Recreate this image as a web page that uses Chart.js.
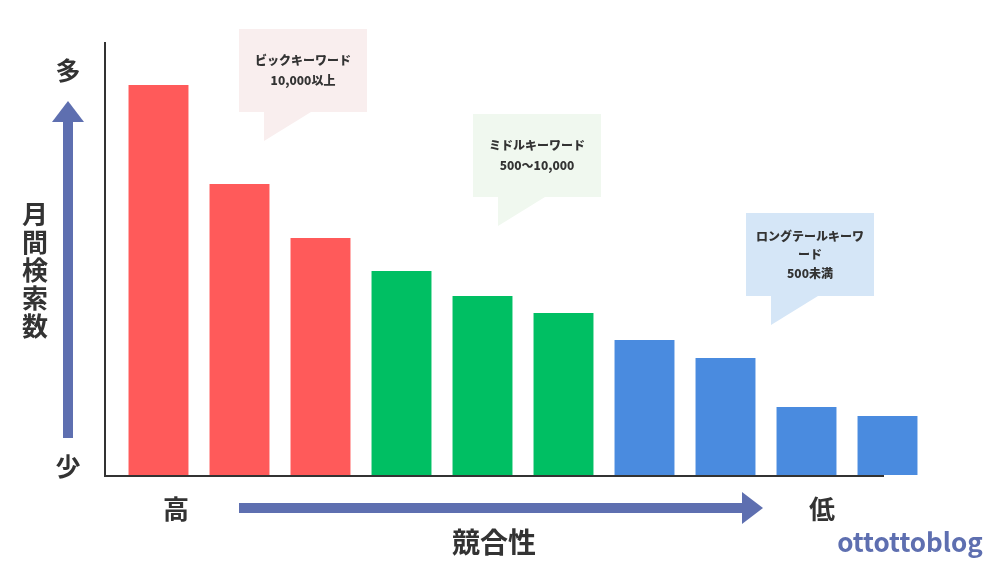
<!DOCTYPE html>
<html>
<head>
<meta charset="utf-8">
<script src="https://cdn.jsdelivr.net/npm/chart.js@4/dist/chart.umd.min.js"></script>
<style>
  body { margin: 0; background: #fff; }
  canvas { display: block; }
</style>
</head>
<body>
<canvas id="chart" width="1000" height="565"></canvas>
<script>
"use strict";

// keyword types, ordered from big to long-tail
const keywords = ["big1", "big2", "big3", "mid1", "mid2", "mid3", "long1", "long2", "long3", "long4"];
// relative monthly search volume (no unit)
const volume = [390, 291, 237, 204, 179, 162, 135, 117, 68, 59];
const barColors = [
    "#ff5a5a", "#ff5a5a", "#ff5a5a",
    "#00bf63", "#00bf63", "#00bf63",
    "#4a8bdf", "#4a8bdf", "#4a8bdf", "#4a8bdf"
];
const callouts = [
    { lines: ["ビックキーワード", "10,000以上"], x: 239, y: 29, fill: "#f9eeee", step: 20 },
    { lines: ["ミドルキーワード", "500〜10,000"], x: 473, y: 114, fill: "#f0f8ef", step: 20 },
    { lines: ["ロングテールキーワ", "ード", "500未満"], x: 746, y: 213, fill: "#d5e6f7", step: 18.5 }
];

const FONT = '"Noto Sans CJK JP", "Noto Sans", sans-serif';
const ARROW = "#5e6fb0";
const INK = "#333333";

function arrowUp(ctx, x, yTop, yBottom) {
    ctx.fillStyle = ARROW;
    ctx.fillRect(x - 5, yTop + 20, 10, yBottom - yTop - 20);
    ctx.beginPath();
    ctx.moveTo(x, yTop);
    ctx.lineTo(x - 16, yTop + 21);
    ctx.lineTo(x + 16, yTop + 21);
    ctx.closePath();
    ctx.fill();
}

function arrowRight(ctx, y, xLeft, xRight) {
    ctx.fillStyle = ARROW;
    ctx.fillRect(xLeft, y - 5, xRight - xLeft - 20, 10);
    ctx.beginPath();
    ctx.moveTo(xRight, y);
    ctx.lineTo(xRight - 21, y - 16);
    ctx.lineTo(xRight - 21, y + 16);
    ctx.closePath();
    ctx.fill();
}

const decor = {
    id: "decor",
    beforeDatasetsDraw(chart) {
        const ctx = chart.ctx;
        const area = chart.chartArea;
        ctx.save();
        ctx.strokeStyle = INK;
        ctx.lineWidth = 2;
        ctx.beginPath();
        ctx.moveTo(105, 42);
        ctx.lineTo(105, area.bottom + 1);
        ctx.lineTo(884, area.bottom + 1);
        ctx.stroke();
        ctx.restore();
    },
    afterDraw(chart) {
        const ctx = chart.ctx;
        ctx.save();
        ctx.textAlign = "center";
        ctx.textBaseline = "middle";

        // y axis legend
        ctx.fillStyle = INK;
        ctx.font = "bold 25px " + FONT;
        ctx.fillText("多", 68, 70);
        ctx.fillText("少", 68, 466);
        arrowUp(ctx, 68, 101, 438);
        ctx.fillStyle = INK;
        ctx.font = "bold 26px " + FONT;
        ["月", "間", "検", "索", "数"].forEach((c, i) => {
            ctx.fillText(c, 35, 214 + i * 28);
        });

        // x axis legend
        ctx.font = "bold 26px " + FONT;
        ctx.fillText("高", 176, 509);
        ctx.fillText("低", 822, 509);
        arrowRight(ctx, 508, 239, 763);
        ctx.fillStyle = INK;
        ctx.font = "bold 28px " + FONT;
        ctx.fillText("競合性", 494, 542);

        ctx.fillStyle = ARROW;
        ctx.font = "bold 26px " + FONT;
        ctx.textBaseline = "alphabetic";
        ctx.fillText("ottottoblog", 910, 552);
        ctx.textBaseline = "middle";

        // speech bubbles
        callouts.forEach(c => {
            ctx.fillStyle = c.fill;
            ctx.fillRect(c.x, c.y, 128, 83);
            ctx.beginPath();
            ctx.moveTo(c.x + 25, c.y + 83);
            ctx.lineTo(c.x + 72, c.y + 83);
            ctx.lineTo(c.x + 25, c.y + 112);
            ctx.closePath();
            ctx.fill();
            ctx.fillStyle = INK;
            ctx.font = "900 12px " + FONT;
            const y0 = c.y + 41.5 - (c.lines.length - 1) * c.step / 2;
            c.lines.forEach((t, i) => ctx.fillText(t, c.x + 64, y0 + i * c.step));
        });
        ctx.restore();
    }
};

new Chart(document.getElementById("chart"), {
    type: "bar",
    data: {
        labels: keywords,
        datasets: [{
            data: volume,
            backgroundColor: barColors,
            borderWidth: 0,
            categoryPercentage: 1,
            barPercentage: 0.74
        }]
    },
    options: {
        responsive: false,
        animation: false,
        layout: {
            padding: { left: 118, right: 72, top: 42, bottom: 90 }
        },
        scales: {
            x: { display: false },
            y: { display: false, min: 0, max: 433 }
        },
        plugins: {
            legend: { display: false },
            tooltip: { enabled: false }
        }
    },
    plugins: [decor]
});
</script>
</body>
</html>
